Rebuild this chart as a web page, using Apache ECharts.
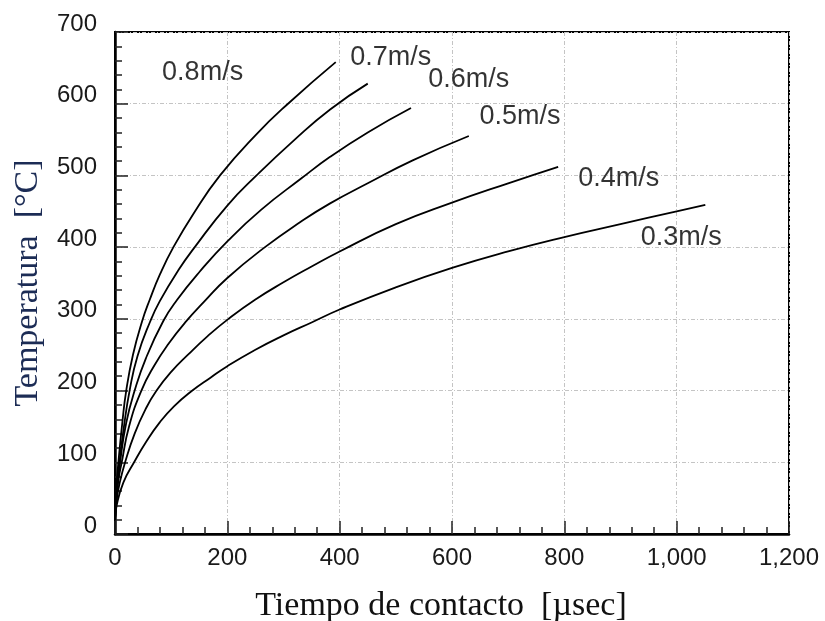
<!DOCTYPE html>
<html>
<head>
<meta charset="utf-8">
<script src="https://cdn.jsdelivr.net/npm/echarts@6/dist/echarts.min.js"></script>
<style>
    html, body { margin: 0; padding: 0; background: #fff; }
    #temp_chart { width: 825px; height: 621px; }
</style>
</head>
<body>
<div id="temp_chart"></div>
<script>
    // curve values: contact time [µsec] / temperature [°C]
    const speeds = ['0.8m/s', '0.7m/s', '0.6m/s', '0.5m/s', '0.4m/s', '0.3m/s'];

    const time08 = [0, 3, 6, 13, 20, 32, 48, 62, 80, 104, 140, 187, 250, 308, 393];
    const temp08 = [20, 70, 100, 155, 200, 250, 296, 327, 362, 400, 447, 500, 556, 600, 658];

    const time07 = [0, 3, 8, 16, 26, 40, 63, 80, 113, 142, 200, 252, 320, 383, 450];
    const temp07 = [20, 62, 100, 150, 200, 248, 297, 325, 368, 400, 458, 500, 550, 592, 628];

    const time06 = [0, 3, 9, 20, 35, 55, 86, 110, 151, 200, 260, 332, 383, 450, 527];
    const temp06 = [20, 58, 100, 155, 200, 245, 297, 326, 366, 408, 452, 496, 526, 560, 594];

    const time05 = [0, 3, 6, 12, 25, 47, 70, 95, 125, 160, 200, 267, 330, 383, 450, 530, 630];
    const temp05 = [20, 52, 75, 100, 150, 200, 235, 265, 295, 325, 357, 400, 435, 461, 489, 521, 555];

    const time04 = [0, 3, 8, 18, 35, 55, 74, 100, 130, 165, 202, 250, 300, 350, 400, 500, 600, 700, 789];
    const temp04 = [20, 48, 70, 100, 140, 175, 200, 226, 250, 276, 300, 327, 351, 373, 394, 432, 462, 489, 512];

    const time03 = [0, 3, 15, 34, 55, 80, 105, 136, 170, 200, 250, 300, 350, 400, 500, 600, 700, 800, 900, 1000, 1051];
    const temp03 = [20, 40, 72, 100, 128, 156, 178, 199, 218, 234, 257, 277, 295, 313, 344, 371, 394, 414, 432, 450, 459];

    // where each speed is written (in axis units)
    const labelTime = [156, 491, 630, 721, 897, 1008];
    const labelTemp = [643, 665, 634, 582, 495, 414];

    const xTicks = [0, 1200, 200];   // min, max, interval
    const yTicks = [0, 700, 100];

    const times = [time08, time07, time06, time05, time04, time03];
    const temps = [temp08, temp07, temp06, temp05, temp04, temp03];

    const gridLine = {
        show: true,
        lineStyle: { color: '#c4c4c4', width: 1, type: [4, 2, 1, 2] }
    };
    const tickFont = { color: '#1a1a1a', fontFamily: 'Liberation Sans, Arial', fontSize: 24 };

    const series = speeds.map(function (name, i) {
        return {
            name: name,
            type: 'line',
            symbol: 'none',
            smooth: 0.5,
            lineStyle: { color: '#000', width: 1.8 },
            data: times[i].map(function (t, j) { return [t, temps[i][j]]; })
        };
    });

    series.push({
        type: 'scatter',
        symbolSize: 0,
        label: {
            show: true,
            position: 'inside',
            formatter: function (p) { return p.data[2]; },
            color: '#000',
            fontFamily: 'Liberation Sans, Arial',
            fontSize: 27
        },
        data: speeds.map(function (name, i) { return [labelTime[i], labelTemp[i], name]; })
    });

    const option = {
        backgroundColor: '#fff',
        animation: false,
        grid: {
            left: 115,
            right: 36,
            top: 32,
            bottom: 87,
            containLabel: false,
            outerBoundsMode: 'none',
            show: true,
            borderColor: '#000',
            borderWidth: 2
        },
        xAxis: {
            type: 'value',
            min: xTicks[0],
            max: xTicks[1],
            interval: xTicks[2],
            name: 'Tiempo de contacto  [µsec]',
            nameLocation: 'middle',
            nameGap: 55,
            nameTextStyle: {
                color: '#111',
                fontFamily: 'Liberation Serif, Times New Roman',
                fontSize: 34,
                padding: [0, 22, 0, 0]
            },
            axisLine: { lineStyle: { color: '#000', width: 2.5 } },
            axisTick: { inside: true, length: 13, lineStyle: { color: '#222', width: 1.5 } },
            minorTick: { show: true, splitNumber: 5, length: 7, lineStyle: { color: '#222', width: 1.5 } },
            axisLabel: Object.assign({
                margin: 12,
                formatter: function (v) { return v.toLocaleString('en-US'); }
            }, tickFont),
            splitLine: gridLine
        },
        yAxis: {
            type: 'value',
            min: yTicks[0],
            max: yTicks[1],
            interval: yTicks[2],
            name: 'Temperatura  [°C]',
            nameLocation: 'middle',
            nameGap: 70,
            nameTextStyle: { color: '#1c2c55', fontFamily: 'Liberation Serif, Times New Roman', fontSize: 34 },
            axisLine: { show: true, lineStyle: { color: '#000', width: 2.5 } },
            axisTick: { show: true, inside: true, length: 13, lineStyle: { color: '#222', width: 1.5 } },
            minorTick: { show: true, splitNumber: 5, length: 7, lineStyle: { color: '#222', width: 1.5 } },
            axisLabel: Object.assign({
                margin: 18,
                verticalAlign: 'bottom',
                lineHeight: 16
            }, tickFont),
            splitLine: gridLine
        },
        series: series
    };

    const tempChart = echarts.init(document.getElementById('temp_chart'));
    tempChart.setOption(option);
    window.addEventListener('resize', function () {
        tempChart.resize();
    });
</script>
</body>
</html>
